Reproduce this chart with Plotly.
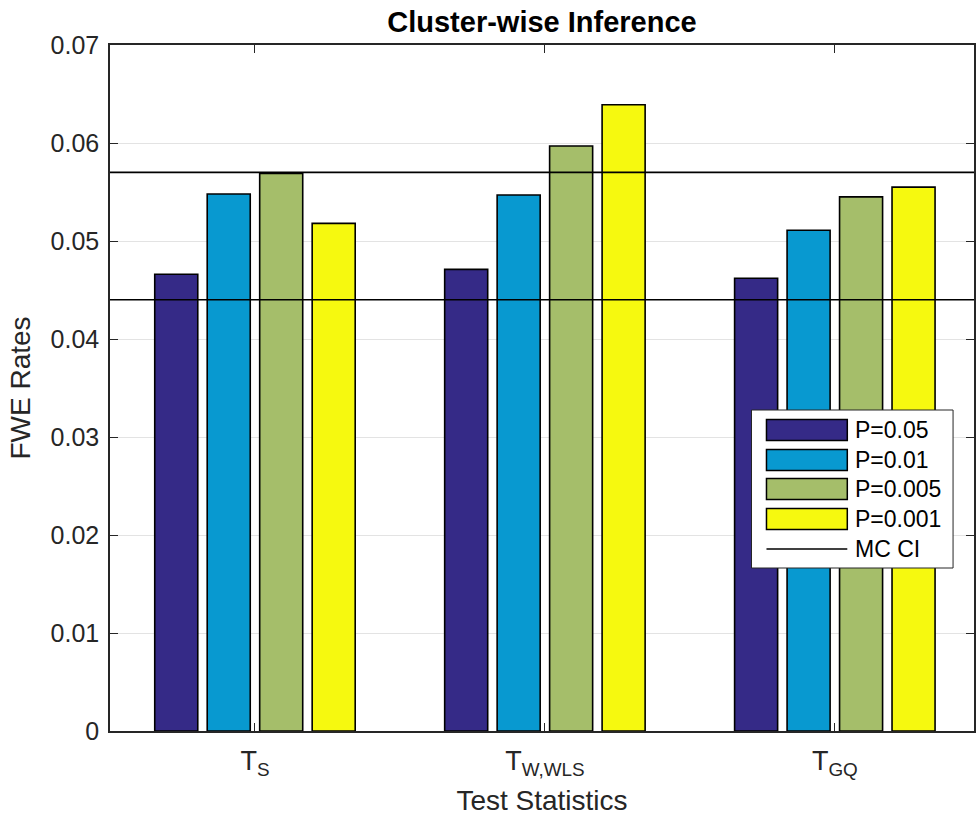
import plotly.graph_objects as go

# ---------------- data ----------------
categories = ["T<sub>S</sub>", "T<sub>W,WLS</sub>", "T<sub>GQ</sub>"]
cat_pos = [1, 2, 3]
series_names = ["P=0.05", "P=0.01", "P=0.005", "P=0.001"]
p_05 = [0.0466, 0.0471, 0.0462]
p_01 = [0.0548, 0.0547, 0.0511]
p_005 = [0.0569, 0.0597, 0.0545]
p_001 = [0.0518, 0.0639, 0.0555]
ci_lower = 0.0440
ci_upper = 0.0570
ci_name = "MC CI"
y_ticks = [0, 0.01, 0.02, 0.03, 0.04, 0.05, 0.06, 0.07]
y_tick_labels = ["0", "0.01", "0.02", "0.03", "0.04", "0.05", "0.06", "0.07"]

# ---------------- style ----------------
colors = ["#352A87", "#0899D0", "#A5BE6A", "#F6F90F"]
FONT = "Liberation Sans, Arial, Helvetica, sans-serif"
W, H = 976, 821
L, R, T, B = 110, 0, 45, 90
plot_w = W - L - R
plot_h = H - T - B


def px_x(p):
    return (p - L) / plot_w


def px_y(p):
    return (H - B - p) / plot_h


fig = go.Figure()
for name, vals, col in zip(series_names, [p_05, p_01, p_005, p_001], colors):
    fig.add_trace(go.Bar(
        x=cat_pos, y=vals, name=name,
        marker=dict(color=col, line=dict(color="black", width=1.6)),
        showlegend=False,
    ))

for v in [ci_lower, ci_upper]:
    fig.add_trace(go.Scatter(
        x=[0.5, 3.5], y=[v, v], mode="lines", name=ci_name,
        line=dict(color="black", width=1.6), showlegend=False,
    ))

# ---------------- manual legend (MATLAB style) ----------------
shapes = []
annotations = []
shapes.append(dict(type="rect", xref="paper", yref="paper",
                   x0=px_x(753), x1=px_x(955), y0=px_y(568), y1=px_y(410),
                   line=dict(color="#262626", width=1), fillcolor="white", layer="above"))
rows = [430, 460, 489, 519, 549]
for i, (name, col) in enumerate(zip(series_names, colors)):
    yc = rows[i]
    shapes.append(dict(type="rect", xref="paper", yref="paper",
                       x0=px_x(768), x1=px_x(849), y0=px_y(yc + 10.5), y1=px_y(yc - 10.5),
                       line=dict(color="black", width=1.5), fillcolor=col, layer="above"))
    annotations.append(dict(xref="paper", yref="paper", x=px_x(855), y=px_y(yc),
                            text=name, showarrow=False, xanchor="left", yanchor="middle",
                            font=dict(family=FONT, size=23, color="black")))
yc = rows[4]
shapes.append(dict(type="line", xref="paper", yref="paper",
                   x0=px_x(768), x1=px_x(849), y0=px_y(yc), y1=px_y(yc),
                   line=dict(color="black", width=1.6), layer="above"))
annotations.append(dict(xref="paper", yref="paper", x=px_x(855), y=px_y(yc),
                        text=ci_name, showarrow=False, xanchor="left", yanchor="middle",
                        font=dict(family=FONT, size=23, color="black")))

fig.update_layout(
    width=W, height=H,
    margin=dict(l=L, r=R, t=T, b=B, pad=0),
    paper_bgcolor="white", plot_bgcolor="white",
    barmode="group", bargap=0.276, bargroupgap=0.18,
    title=dict(text="<b>Cluster-wise Inference</b>", x=px_x(543), xref="paper",
               xanchor="center", y=1 - 22 / H, yanchor="middle",
               font=dict(family=FONT, size=29, color="black")),
    font=dict(family=FONT, color="#262626"),
    shapes=shapes, annotations=annotations,
    showlegend=False,
)
fig.update_xaxes(
    range=[0.5, 3.48], tickmode="array", tickvals=cat_pos, ticktext=categories,
    showgrid=False, zeroline=False,
    showline=True, linecolor="#262626", linewidth=1.5, mirror="ticks",
    ticks="inside", ticklen=8, tickcolor="#262626", tickwidth=1,
    tickfont=dict(family=FONT, size=27, color="#262626"),
    ticklabelstandoff=5,
    title=dict(text="Test Statistics", font=dict(family=FONT, size=28, color="#262626"), standoff=12),
)
fig.update_yaxes(
    range=[0, 0.07], tickmode="array", tickvals=y_ticks, ticktext=y_tick_labels,
    showgrid=True, gridcolor="#E3E3E3", gridwidth=1, zeroline=False,
    showline=True, linecolor="#262626", linewidth=1.5, mirror="ticks",
    ticks="inside", ticklen=8, tickcolor="#262626", tickwidth=1,
    tickfont=dict(family=FONT, size=25, color="#262626"),
    ticklabelstandoff=4,
    title=dict(text="FWE Rates", font=dict(family=FONT, size=28, color="#262626"), standoff=12),
)

fig.write_html("out.html", config={"displayModeBar": False},
               post_script="document.body.style.margin='0';")
